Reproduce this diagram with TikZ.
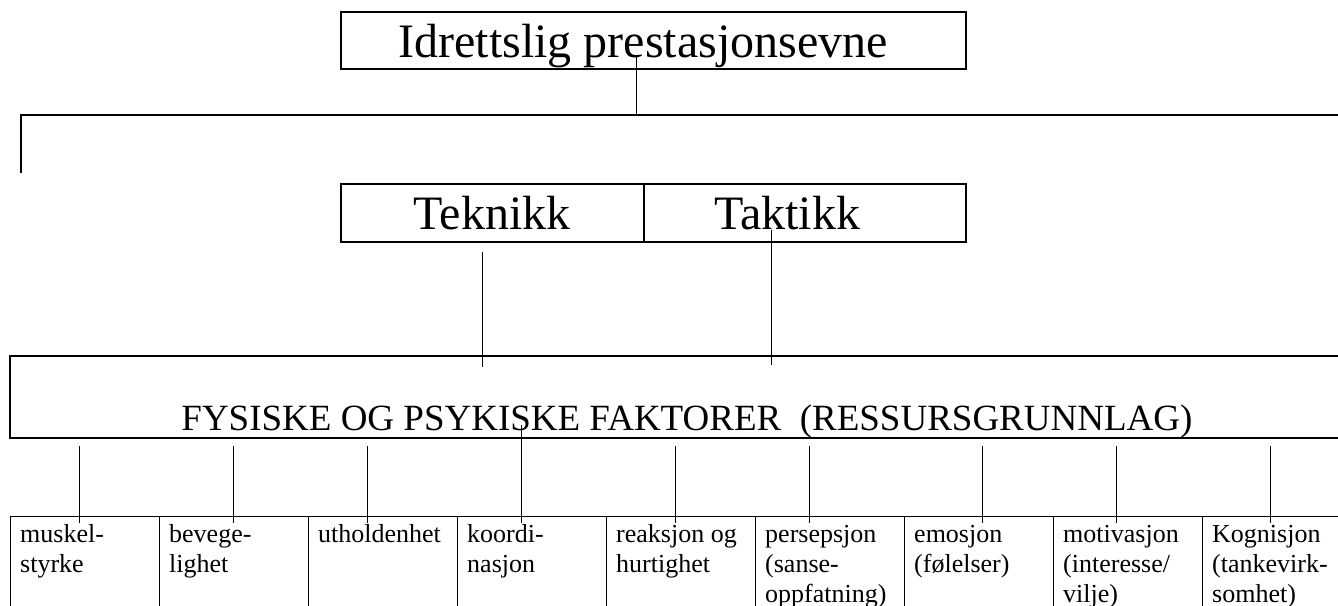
\documentclass[tikz,border=0pt]{standalone}
\usepackage{fontspec}
\setmainfont{Liberation Serif}
\begin{document}
\begin{tikzpicture}[x=1pt,y=-1pt,
  box/.style={draw, line width=1.3pt, inner sep=0pt, rectangle},
  conn/.style={line width=1pt},
  bigfont/.style={font=\fontsize{48}{56}\selectfont, inner sep=0pt},
  midfont/.style={font=\fontsize{37}{44}\selectfont, inner sep=0pt},
  cellfont/.style={font=\fontsize{26}{30}\selectfont, inner sep=0pt, align=left, anchor=north west},
  cell/.style={box, minimum width=149pt, minimum height=110pt, anchor=north west},
]
\useasboundingbox (0,0) rectangle (1338,605);
\clip (0,0) rectangle (1338,605);

% top box
\node[box, minimum width=625pt, minimum height=57pt] (top) at (653.5,40.5) {};
\node[bigfont, anchor=base] (toptext) at (643,57) {Idrettslig prestasjonsevne};

% junction line
\coordinate (topend) at (636,57);
\coordinate (J) at (636,115);
\coordinate (JR) at (1345,115);
\coordinate (JL) at (21,115);
\coordinate (JLend) at (21,173);
\draw[conn] (topend) -- (J);
\draw[line width=1.3pt] (JR) -- (JL) -- (JLend);

% Teknikk / Taktikk
\node[box, minimum width=303pt, minimum height=58pt] (tek) at (492.5,213) {};
\node[box, minimum width=322pt, minimum height=58pt] (tak) at (805,213) {};
\node[bigfont, anchor=base] (tektext) at (492,229) {Teknikk};
\node[bigfont, anchor=base] (taktext) at (787,229) {Taktikk};

% big box
\node[box, minimum width=1341pt, minimum height=82pt] (big) at (680.5,397) {};
\node[midfont, anchor=base] (bigtext) at (687,430) {FYSISKE OG PSYKISKE FAKTORER\ \ (RESSURSGRUNNLAG)};

\coordinate (tekA) at (482,252);
\coordinate (tekB) at (482,367);
\coordinate (takA) at (771,230);
\coordinate (takB) at (771,365);
\draw[conn] (tekA) -- (tekB);
\draw[conn] (takA) -- (takB);

% bottom cells
\foreach \i/\x/\t in {1/10/{muskel-\\styrke},
                      2/159/{bevege-\\lighet},
                      3/308/{utholdenhet},
                      4/457/{koordi-\\nasjon},
                      5/606/{reaksjon og\\hurtighet},
                      6/755/{persepsjon\\(sanse-\\oppfatning)},
                      7/904/{emosjon\\(følelser)},
                      8/1053/{motivasjon\\(interesse/\\vilje)},
                      9/1202/{Kognisjon\\(tankevirk-\\somhet)}}{
  \node[cell] (c\i) at (\x,516) {};
  \node[cellfont] (t\i) at (\x+10,521) {\strut\t};
}

% connectors from big box to cells
\foreach \i/\x/\y in {1/79/446, 2/233/446, 3/367/446, 4/521/425, 5/675/446,
                      6/809/446, 7/982/446, 8/1116/446, 9/1270/446}{
  \coordinate (u\i) at (\x,\y);
  \coordinate (d\i) at (\x,523);
  \draw[conn] (u\i) -- (d\i);
}
\end{tikzpicture}
\end{document}
